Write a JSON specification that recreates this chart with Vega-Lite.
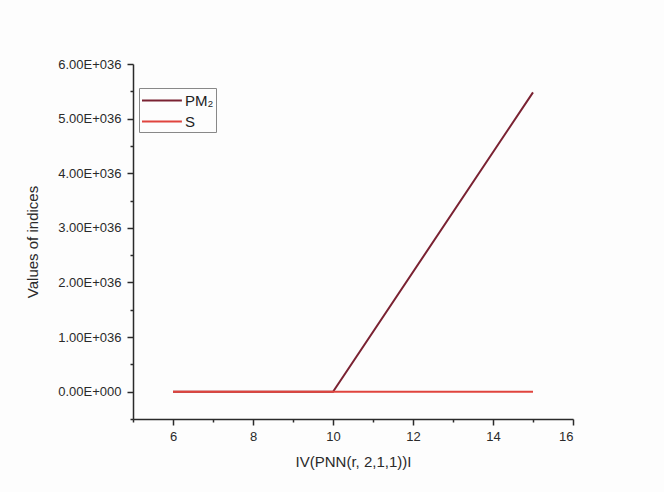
{
  "$schema": "https://vega.github.io/schema/vega-lite/v6.json",
  "width": 440,
  "height": 355,
  "autosize": "none",
  "padding": {"left": 133, "top": 64, "right": 91, "bottom": 73},
  "background": "#fdfdfd",
  "config": {
    "view": {"stroke": null},
    "font": "Liberation Sans",
    "axis": {"grid": false, "domainColor": "#2a2a2a", "tickColor": "#2a2a2a", "labelColor": "#2a2a2a", "titleColor": "#2a2a2a", "domainWidth": 1.5, "tickWidth": 1.5}
  },
  "data": {
    "values": [
      {"x": 6, "y": 0, "series": "PM₂"},
      {"x": 10, "y": 0, "series": "PM₂"},
      {"x": 15, "y": 5.48e36, "series": "PM₂"},
      {"x": 6, "y": 0, "series": "S"},
      {"x": 15, "y": 0, "series": "S"}
    ]
  },
  "layer": [
    {
      "mark": {"type": "line", "strokeWidth": 2},
      "encoding": {
        "x": {
          "field": "x", "type": "quantitative",
          "scale": {"domain": [5, 16], "nice": false, "zero": false},
          "axis": {"orient": "bottom", "values": [6, 8, 10, 12, 14, 16], "tickSize": 6, "labelFontSize": 13, "labelPadding": 5, "title": "IV(PNN(r, 2,1,1))I", "titleFontSize": 15, "titleFontWeight": "normal", "titlePadding": 11}
        },
        "y": {
          "field": "y", "type": "quantitative",
          "scale": {"domain": [-0.5e36, 6e36], "nice": false, "zero": false},
          "axis": {"orient": "left", "values": [0, 1e36, 2e36, 3e36, 4e36, 5e36, 6e36], "tickSize": 6, "labelFontSize": 13, "labelPadding": 6, "labelExpr": "datum.value === 0 ? '0.00E+000' : format(datum.value / 1e36, '.2f') + 'E+036'", "title": "Values of indices", "titleFontSize": 15, "titleFontWeight": "normal", "titlePadding": 17}
        },
        "color": {
          "field": "series", "type": "nominal",
          "scale": {"domain": ["PM₂", "S"], "range": ["#7a2232", "#e0443e"]},
          "legend": {"orient": "none", "legendX": 6, "legendY": 24, "title": null, "symbolType": "M-1,0H3.2", "symbolSize": 361, "symbolStrokeWidth": 2, "labelFontSize": 15, "labelColor": "#222", "strokeColor": "#888", "padding": 2, "rowPadding": 2, "labelOffset": 23}
        }
      }
    },
    {
      "mark": {"type": "point", "opacity": 0},
      "encoding": {
        "x": {
          "field": "x", "type": "quantitative",
          "scale": {"domain": [5, 16], "nice": false, "zero": false},
          "axis": {"orient": "bottom", "values": [5, 7, 9, 11, 13, 15], "tickSize": 3, "labels": false, "domain": false, "title": null}
        },
        "y": {
          "field": "y", "type": "quantitative",
          "scale": {"domain": [-0.5e36, 6e36], "nice": false, "zero": false},
          "axis": {"orient": "left", "values": [-0.5e36, 0.5e36, 1.5e36, 2.5e36, 3.5e36, 4.5e36, 5.5e36], "tickSize": 3, "labels": false, "domain": false, "title": null}
        }
      }
    }
  ],
  "resolve": {"axis": {"x": "independent", "y": "independent"}}
}
